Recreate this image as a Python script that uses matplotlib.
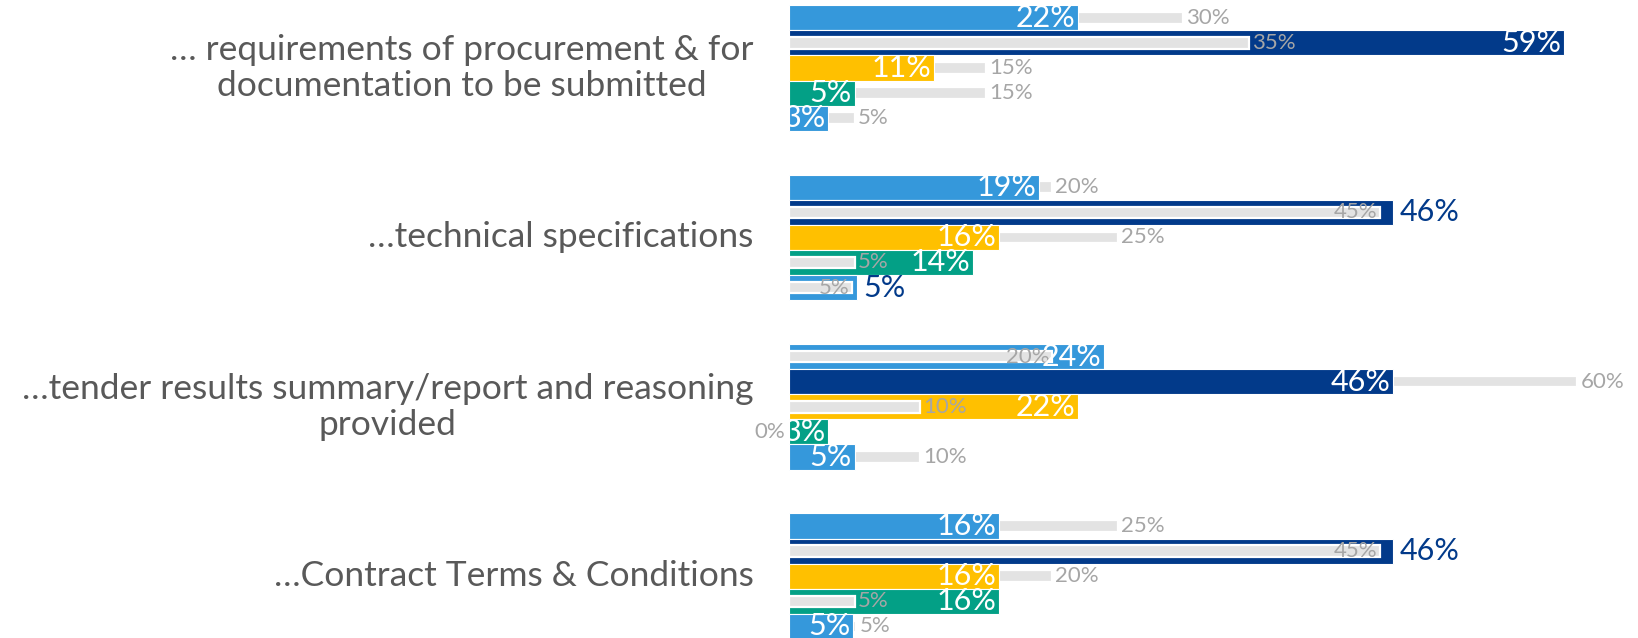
import matplotlib
matplotlib.use("Agg")
import matplotlib.pyplot as plt

plt.rcParams['font.family'] = ['Lato', 'DejaVu Sans']

# données
categories = [
    "… requirements of procurement & for\ndocumentation to be submitted",
    "…technical specifications",
    "…tender results summary/report and reasoning\nprovided",
    "…Contract Terms & Conditions",
]
# 5 barres par groupe (valeurs actuelles)
values = [
    [22, 59, 11, 5, 3],
    [19, 46, 16, 14, 5.2],
    [24, 46, 22, 3, 5],
    [16, 46, 16, 16, 4.9],
]
# barres grises (comparaison)
previous = [
    [30, 35, 15, 15, 5],
    [20, 45, 25, 5, 4.8],
    [20, 60, 10, 0, 10],
    [25, 45, 20, 5, 5.1],
]
bar_colors = ['#3598DB', '#023A8A', '#FFC000', '#03A086', '#3598DB']
grey = '#E3E3E3'
grey_text = '#A6A6A6'
navy = '#023A8A'
label_color = '#595959'

W, H = 1638, 638
fig = plt.figure(figsize=(W / 100, H / 100), dpi=100)

px_per_pct = 13.14
left_px = 789
ax = fig.add_axes([left_px / W, 0, 1 - left_px / W, 1])
ax.set_xlim(0, (W - left_px) / px_per_pct)
row_px = 25.1
ax.set_ylim(H / row_px - 5.2 / row_px, -5.2 / row_px)
ax.axis('off')

group_step = 6.75

for g, cat in enumerate(categories):
    y0 = g * group_step
    for i in range(5):
        y = y0 + i + 0.5
        v = values[g][i]
        p = previous[g][i]
        close = p < v and v - p < 5
        # barre colorée
        ax.barh(y, v, height=1.0, color=bar_colors[i], edgecolor='white',
                linewidth=0.8, zorder=2)
        # barre grise : derrière si plus grande, devant sinon
        z = 1 if p >= v else 3
        if p > 0:
            ax.barh(y, p, height=0.46, color=grey, edgecolor='white',
                    linewidth=1.6, zorder=z)
        # étiquette grise
        if p == 0:
            ax.text(-0.3, y, "0%", color=grey_text, fontsize=16,
                    va='center', ha='right', zorder=4, clip_on=False)
        elif close:
            ax.text(p - 0.2, y, f"{round(p)}%", color=grey_text, fontsize=16,
                    va='center', ha='right', zorder=4)
        else:
            ax.text(p + 0.25, y, f"{round(p)}%", color=grey_text, fontsize=16,
                    va='center', ha='left', zorder=4)
        # étiquette de valeur
        if p < v and v - p < 2:
            ax.text(v + 0.45, y, f"{round(v)}%", color=navy, fontsize=22,
                    va='center', ha='left', zorder=5)
        else:
            ax.text(v - 0.2, y, f"{round(v)}%", color='white', fontsize=22,
                    va='center', ha='right', zorder=5)
    ax.text(-2.7, y0 + 2.5, cat, color=label_color, fontsize=25.5,
            ha='right', va='center', multialignment='center',
            linespacing=1.15, clip_on=False)

fig.savefig("out.png", dpi=100)
